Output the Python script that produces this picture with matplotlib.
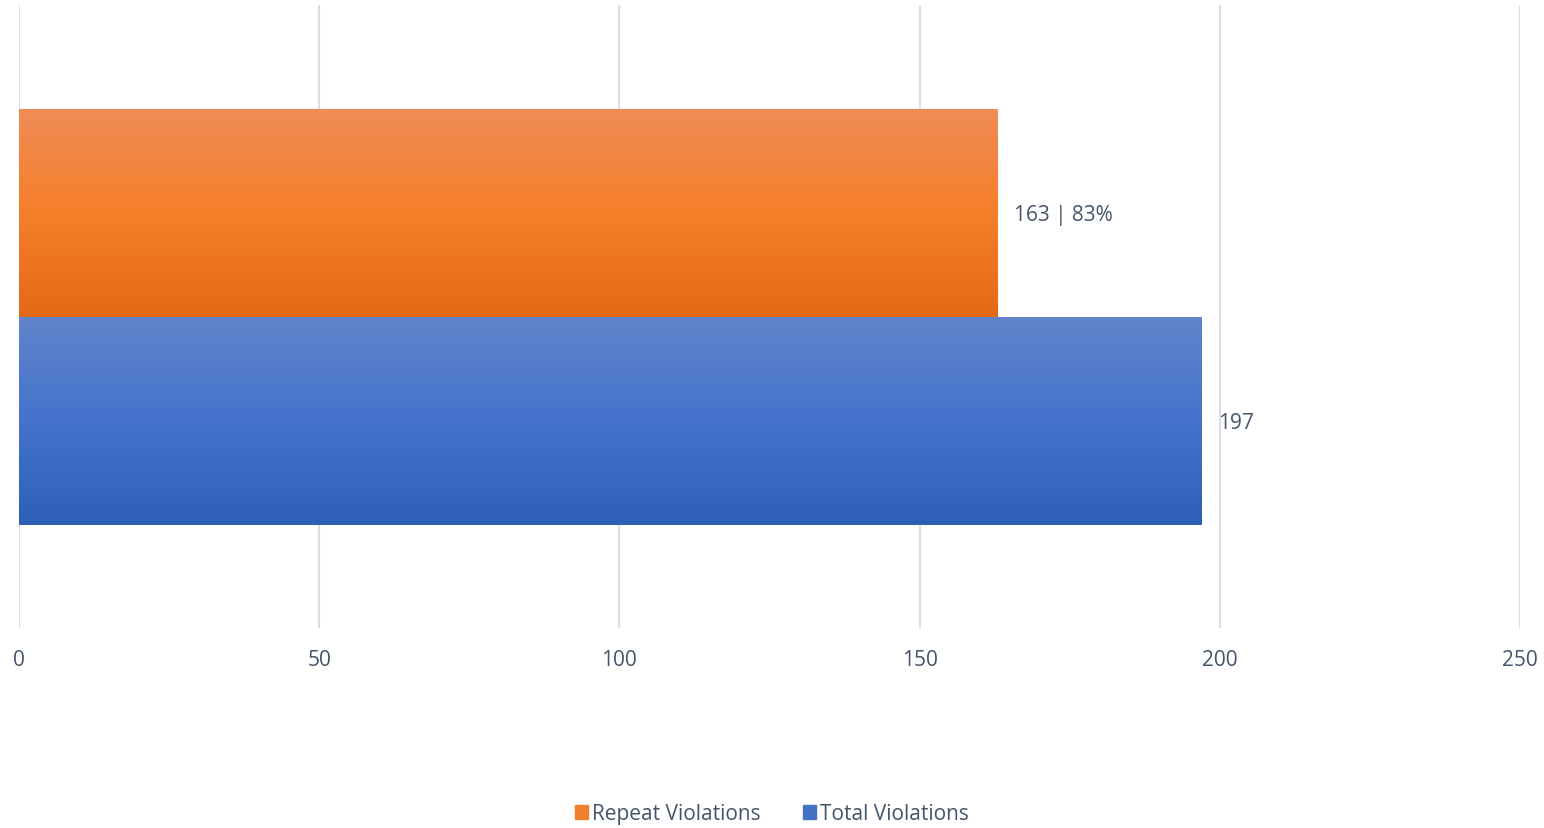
import matplotlib.pyplot as plt
import numpy as np
from matplotlib.colors import LinearSegmentedColormap
from matplotlib.patches import Patch

series = ["Repeat Violations", "Total Violations"]
values = [163, 197]
labels = ["163 | 83%", "197"]
ticks = [0, 50, 100, 150, 200, 250]

# gradient colours top -> bottom
grads = [["#F08C56", "#F57F2A", "#E46917"],
         ["#6184CC", "#4573CB", "#2E5FB7"]]
solid = ["#F07F2E", "#4472C4"]

plt.rcParams['font.family'] = ['Open Sans', 'DejaVu Sans']
text_color = "#44546A"

fig = plt.figure(figsize=(15.44, 8.29), dpi=100)
ax = fig.add_axes([19 / 1544, 1 - 629 / 829, 1501 / 1544, 623 / 829])

h = 208 / 623
pos = [h / 2, -h / 2]
bars = ax.barh(pos, values, height=h, color="none", zorder=2)

grad = np.linspace(0, 1, 256).reshape(-1, 1)
for b, g in zip(bars, grads):
    cmap = LinearSegmentedColormap.from_list("g", g)
    x0, y0 = b.get_x(), b.get_y()
    im = ax.imshow(grad, cmap=cmap, aspect="auto", origin="upper",
                   extent=[x0, x0 + b.get_width(), y0, y0 + b.get_height()],
                   zorder=2)
    im.set_clip_path(b)

for p, v, t in zip(pos, values, labels):
    ax.text(v + 2.7, p - 0.003, t, va="center", ha="left", fontsize=15, color=text_color)

ax.set_xlim(0, 250)
ax.set_ylim(-0.5, 0.5)
ax.set_xticks(ticks)
ax.set_yticks([])
ax.xaxis.grid(True, color="#D9DEE5", linewidth=1.5)
ax.set_axisbelow(True)
ax.tick_params(axis="x", length=0, pad=15, labelsize=15, labelcolor=text_color)
for s in ax.spines.values():
    s.set_visible(False)

handles = [Patch(color=c) for c in solid]
fig.legend(handles, series, loc="center", bbox_to_anchor=(0.5, 1 - 815 / 829),
           ncol=2, frameon=False, fontsize=15, labelcolor=text_color,
           handlelength=0.65, handleheight=0.65, handletextpad=0.2, columnspacing=2.0)

fig.savefig("out.png", dpi=100)
